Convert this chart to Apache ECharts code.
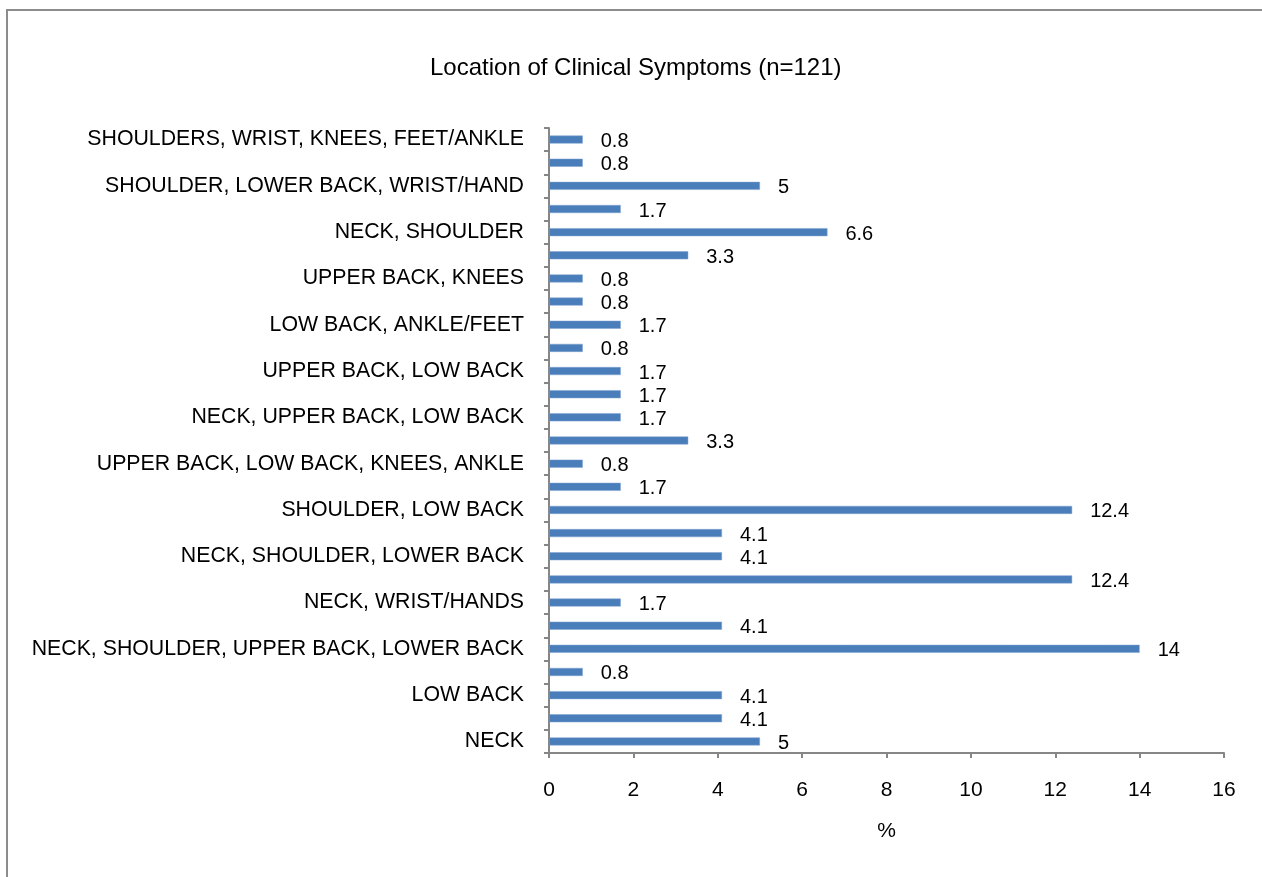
<!DOCTYPE html>
<html>
<head>
<meta charset="utf-8">
<script src="https://cdn.jsdelivr.net/npm/echarts@6/dist/echarts.min.js"></script>
<style>
html,body{margin:0;padding:0;background:#fff;}
#chart{width:1262px;height:877px;}
</style>
</head>
<body>
<div id="chart"></div>
<script>
// Categories from bottom to top; unlabeled bars have empty names
var categories = [
  'NECK', '',
  'LOW BACK', '',
  'NECK, SHOULDER, UPPER BACK, LOWER BACK', '',
  'NECK, WRIST/HANDS', '',
  'NECK, SHOULDER, LOWER BACK', '',
  'SHOULDER, LOW BACK', '',
  'UPPER BACK, LOW BACK, KNEES, ANKLE', '',
  'NECK, UPPER BACK, LOW BACK', '',
  'UPPER BACK, LOW BACK', '',
  'LOW BACK, ANKLE/FEET', '',
  'UPPER BACK, KNEES', '',
  'NECK, SHOULDER', '',
  'SHOULDER, LOWER BACK, WRIST/HAND', '',
  'SHOULDERS, WRIST, KNEES, FEET/ANKLE'
];
var percentValues = [
  5, 4.1, 4.1, 0.8, 14, 4.1, 1.7, 12.4, 4.1, 4.1,
  12.4, 1.7, 0.8, 3.3, 1.7, 1.7, 1.7, 0.8, 1.7, 0.8,
  0.8, 3.3, 6.6, 1.7, 5, 0.8, 0.8
];
var xTicks = [0, 2, 4, 6, 8, 10, 12, 14, 16];
var titleText = 'Location of Clinical Symptoms (n=121)';
var xAxisName = '%';

var FONT = '"Liberation Sans", Arial, sans-serif';
var chart = echarts.init(document.getElementById('chart'), null, {renderer: 'canvas'});
chart.setOption({
  backgroundColor: '#ffffff',
  animation: false,
  title: {
    text: titleText,
    left: 430,
    top: 56,
    padding: 0,
    textStyle: {fontFamily: FONT, fontSize: 24, fontWeight: 'normal', color: '#000'}
  },
  graphic: [{
    type: 'rect',
    shape: {x: 7, y: 10, width: 1400, height: 1000},
    style: {fill: 'none', stroke: '#8c8c8c', lineWidth: 2},
    silent: true
  }],
  grid: {left: 549, top: 128, right: 38, bottom: 124, containLabel: false},
  xAxis: {
    type: 'value',
    min: xTicks[0],
    max: xTicks[xTicks.length - 1],
    interval: xTicks[1] - xTicks[0],
    name: xAxisName,
    nameLocation: 'middle',
    nameGap: 68,
    nameTextStyle: {fontFamily: FONT, fontSize: 21, color: '#000'},
    axisLine: {show: true, lineStyle: {color: '#868686', width: 2}},
    axisTick: {show: true, length: 5, lineStyle: {color: '#868686', width: 2}},
    axisLabel: {fontFamily: FONT, fontSize: 21, color: '#000', margin: 27},
    splitLine: {show: false}
  },
  yAxis: {
    type: 'category',
    data: categories,
    axisLine: {show: true, lineStyle: {color: '#868686', width: 2}},
    axisTick: {show: true, length: 5, interval: 0, alignWithLabel: false, lineStyle: {color: '#868686', width: 2}},
    axisLabel: {interval: 1, fontFamily: FONT, fontSize: 21.3, color: '#000', margin: 25},
    splitLine: {show: false}
  },
  series: [{
    type: 'bar',
    data: percentValues,
    barWidth: 8,
    itemStyle: {color: '#4a7ebb', borderColor: '#7fa3d0', borderWidth: 0.5},
    label: {
      show: true,
      position: 'right',
      distance: 18,
      offset: [0, 2],
      fontFamily: FONT,
      fontSize: 20,
      color: '#000'
    }
  }]
});
</script>
</body>
</html>
